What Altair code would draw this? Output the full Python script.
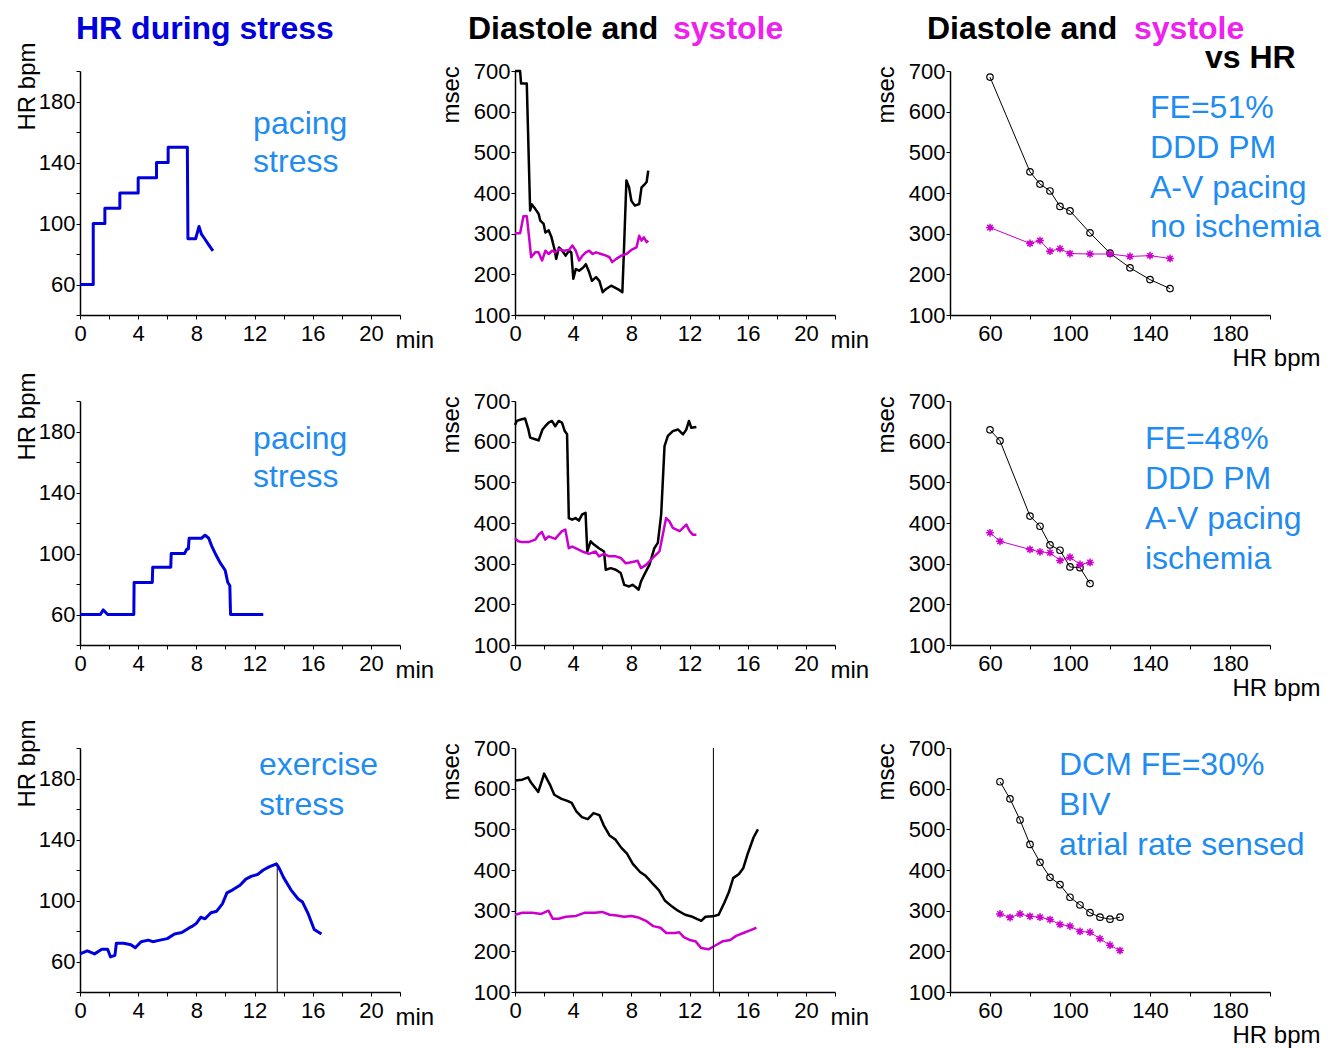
import altair as alt
import pandas as pd

FONT = "Liberation Sans"
BLUE_HR = "#0000dd"
BLUE_TXT = "#1e8cf0"
MAG = "#cc00cc"
MAG_TITLE = "#ee22ee"

# ---------------- data ----------------
# Row 1 (pacing stress, no ischemia)
HR1_T = [0, 0.91, 0.91, 1.71, 1.71, 2.74, 2.74, 4.00, 4.00, 5.26, 5.26, 6.06, 6.06, 7.38, 7.42, 7.95, 8.18, 8.35, 8.57, 8.85, 9.14]
HR1_BPM = [60, 60, 100, 100, 110, 110, 120, 120, 130, 130, 140, 140, 150, 150, 90, 90, 98, 93, 90, 86, 82]

D1_T = [0, 0.35, 0.42, 0.81, 1.04, 1.16, 1.39, 1.62, 1.74, 1.97, 2.09, 2.32, 2.51, 2.74, 2.83, 3.02, 3.25, 3.48, 3.71, 3.87,
        4.01, 4.18, 4.41, 4.69, 4.87, 5.10, 5.29, 5.57, 5.80, 6.03, 6.26, 6.61, 6.84, 7.19, 7.38, 7.49, 7.66, 7.84, 8.00, 8.24,
        8.54, 8.70, 8.93, 9.05, 9.16]
D1_MS = [700, 700, 669, 669, 357, 372, 361, 349, 332, 324, 303, 308, 291, 258, 238, 266, 258, 246, 258, 254,
         189, 213, 209, 217, 225, 205, 184, 193, 184, 156, 164, 172, 168, 161, 156, 258, 431, 414, 381, 369,
         373, 414, 422, 427, 455]
S1_T = [0, 0.35, 0.58, 0.81, 0.97, 1.11, 1.39, 1.62, 1.86, 2.09, 2.32, 2.55, 2.78, 3.02, 3.36, 3.71, 3.94, 4.18, 4.41, 4.64,
        4.87, 5.10, 5.34, 5.57, 5.92, 6.26, 6.50, 6.68, 6.96, 7.31, 7.66, 8.00, 8.35, 8.54, 8.70, 8.86, 9.05, 9.16]
S1_MS = [301, 301, 343, 343, 291, 242, 254, 254, 234, 258, 250, 258, 254, 262, 258, 260, 271, 258, 234, 246,
         254, 258, 250, 254, 250, 246, 242, 230, 238, 246, 250, 260, 266, 295, 283, 291, 279, 283]

VS1_HR = [60, 80, 85, 90, 95, 100, 110, 120, 130, 140, 150]
VS1_D = [685, 452, 422, 405, 367, 356, 302, 252, 216, 187, 165]
VS1_S = [315, 276, 283, 257, 263, 251, 250, 250, 244, 246, 239]

# Row 2 (pacing stress, ischemia)
HR2_T = [0, 1.40, 1.60, 1.90, 3.70, 3.72, 4.97, 5.00, 6.24, 6.27, 7.19, 7.35, 7.45, 7.50, 8.35, 8.60, 8.85, 9.05, 9.35,
         9.63, 9.98, 10.16, 10.30, 10.35, 12.60]
HR2_BPM = [60, 60, 63, 60, 60, 81, 81, 91, 91, 100, 100, 103, 103, 110, 110, 112, 110, 105, 99,
           94, 89, 81, 79, 60, 60]

D2_T = [0, 0.12, 0.46, 0.69, 0.92, 1.04, 1.39, 1.62, 1.73, 1.89, 2.08, 2.31, 2.54, 2.77, 3.00, 3.23, 3.42, 3.58, 3.70, 3.93,
        4.16, 4.39, 4.62, 4.85, 4.97, 5.20, 5.43, 5.77, 6.12, 6.24, 6.58, 6.93, 7.27, 7.51, 7.85, 8.08, 8.31, 8.50, 8.66, 8.89,
        9.24, 9.58, 9.82, 10.05, 10.28, 10.51, 10.85, 11.20, 11.55, 11.78, 11.96, 12.12, 12.47]
D2_MS = [641, 651, 655, 657, 630, 610, 606, 603, 614, 630, 638, 647, 651, 638, 651, 647, 626, 618, 412, 408,
         412, 406, 421, 425, 330, 355, 347, 338, 330, 285, 289, 285, 277, 248, 244, 248, 242, 236, 256, 273,
         297, 338, 351, 421, 589, 614, 626, 630, 618, 630, 651, 634, 636]
S2_T = [0, 0.23, 0.46, 0.92, 1.39, 1.62, 1.85, 2.08, 2.31, 2.77, 3.00, 3.23, 3.46, 3.70, 3.93, 4.16, 4.62, 5.08, 5.54, 5.77,
        6.12, 6.47, 6.93, 7.27, 7.62, 8.08, 8.43, 8.66, 9.01, 9.47, 9.93, 10.16, 10.39, 10.62, 10.85, 11.32, 11.55, 11.78,
        12.01, 12.24, 12.47]
S2_MS = [363, 355, 353, 353, 359, 371, 378, 359, 367, 361, 371, 380, 384, 338, 342, 338, 330, 324, 330, 318,
         324, 318, 318, 314, 301, 304, 307, 289, 297, 314, 330, 371, 412, 404, 388, 380, 388, 396,
         380, 371, 371]

VS2_HR = [60, 65, 80, 85, 90, 95, 100, 105, 110]
VS2_D = [629, 602, 417, 392, 346, 333, 292, 290, 251]
VS2_S = [376, 355, 335, 329, 327, 308, 316, 298, 303]

# Row 3 (exercise stress)
HR3_T = [0, 0.5, 1.0, 1.5, 1.9, 2.1, 2.4, 2.5, 3.0, 3.5, 3.8, 4.2, 4.7, 5.0, 5.5, 6.0, 6.5, 7.0, 7.5, 7.7,
         8.0, 8.3, 8.6, 9.0, 9.4, 9.8, 10.1, 10.5, 11.0, 11.4, 11.8, 12.2, 12.6, 13.0, 13.5, 13.65, 14.0, 14.5,
         15.0, 15.3, 15.7, 16.1, 16.6]
HR3_BPM = [65, 67, 65, 68, 68, 63, 64, 72, 72, 71, 69, 73, 74, 73, 74, 75, 78, 79, 82, 83,
           85, 89, 88, 92, 93, 98, 105, 107, 110, 114, 116, 117, 120, 122, 124, 122, 115, 107,
           101, 99, 91, 81, 78]
HR3_MARK_T = [13.56]
HR3_MARK_BPM = [124]

D3_T = [0, 0.5, 0.9, 1.1, 1.6, 1.9, 2.0, 2.4, 2.7, 3.2, 3.6, 3.9, 4.2, 4.6, 5.0, 5.4, 5.8, 6.1, 6.5, 6.9,
        7.3, 7.7, 8.1, 8.6, 9.0, 9.5, 9.9, 10.3, 10.8, 11.2, 11.7, 12.2, 12.5, 12.8, 13.1, 13.6, 14.0, 14.4, 14.7, 15.0,
        15.4, 15.7, 16.0, 16.4, 16.7]
D3_MS = [620, 622, 628, 615, 592, 625, 637, 610, 585, 575, 570, 565, 545, 530, 525, 540, 535, 510, 485, 475,
         455, 440, 415, 395, 385, 365, 350, 325, 310, 300, 290, 285, 280, 275, 285, 286, 290, 320, 345, 380,
         390, 405, 440, 480, 500]
S3_T = [0, 0.5, 1.2, 1.8, 2.3, 2.6, 3.0, 3.5, 4.2, 4.8, 5.5, 6.0, 6.5, 7.0, 7.5, 8.0, 8.5, 9.0, 9.5, 10.0,
        10.4, 11.0, 11.3, 11.6, 12.0, 12.4, 12.8, 13.3, 13.8, 14.3, 14.8, 15.2, 15.7, 16.2, 16.6]
S3_MS = [290, 295, 295, 292, 300, 280, 280, 285, 287, 295, 295, 297, 290, 288, 285, 287, 283, 275, 262, 258,
         245, 245, 247, 235, 228, 225, 208, 205, 215, 225, 228, 238, 245, 252, 258]
D3_MARK_T = [13.64]

VS3_HR = [65, 70, 75, 80, 85, 90, 95, 100, 105, 110, 115, 120, 125]
VS3_D = [617, 575, 523, 463, 419, 382, 364, 333, 314, 295, 284, 279, 284]
VS3_S = [292, 283, 292, 286, 284, 278, 266, 262, 249, 247, 231, 215, 202]

# annotation texts (placed in data coordinates)
ANN1_TEXT, ANN1_X, ANN1_Y = ["pacing", "stress"], [11.9, 11.9], [158.7, 133.8]
ANN2_TEXT, ANN2_X, ANN2_Y = ["pacing", "stress"], [11.9, 11.9], [168.5, 143.6]
ANN3_TEXT, ANN3_X, ANN3_Y = ["exercise", "stress"], [12.3, 12.3], [182.3, 156.0]
ANNV1_TEXT, ANNV1_X, ANNV1_Y = ["FE=51%", "DDD PM", "A-V pacing", "no ischemia"], [140] * 4, [584, 486, 388, 292]
ANNV2_TEXT, ANNV2_X, ANNV2_Y = ["FE=48%", "DDD PM", "A-V pacing", "ischemia"], [137.5] * 4, [582, 484, 385, 287]
ANNV3_TEXT, ANNV3_X, ANNV3_Y = ["DCM FE=30%", "BIV", "atrial rate sensed"], [94.5] * 3, [634, 535, 437]

TIME_TICKS = list(range(0, 23, 2))
HR_TICKS = list(range(40, 201, 20))
MS_TICKS = list(range(100, 701, 100))

# ---------------- axes ----------------
AX = dict(domainColor="black", domainWidth=1.5, tickColor="black", tickSize=4, tickWidth=1,
          labelFont=FONT, labelFontSize=22, labelColor="black", labelOverlap=False, labelFlush=False,
          grid=False, titleFont=FONT, titleFontSize=24, titleFontWeight="normal", titleColor="black")
HR_LABELS = "(datum.value == 60 || datum.value == 100 || datum.value == 140 || datum.value == 180) ? datum.label : ''"

W, H = 320, 244
TOP3 = 17          # empty band above the plot area of the bottom row
H3 = H + TOP3

X_TIME = alt.X("x:Q", title="min",
               scale=alt.Scale(domain=[0, 22], nice=False, zero=False),
               axis=alt.Axis(values=TIME_TICKS, labelPadding=4,
                             labelExpr="datum.value % 4 == 0 && datum.value <= 20 ? datum.label : ''",
                             titleX=315, titleY=32, titleAlign="left", titleBaseline="alphabetic",
                             titleAngle=0, **AX))
X_HR = alt.X("x:Q", title="HR bpm",
             scale=alt.Scale(domain=[40, 200], nice=False, zero=False),
             axis=alt.Axis(values=HR_TICKS, labelPadding=4, labelExpr=HR_LABELS,
                           titleX=282, titleY=50, titleAlign="left", titleBaseline="alphabetic",
                           titleAngle=0, **AX))


def y_hr(top=0):
    sc = alt.Scale(domain=[40, 200], nice=False, zero=False)
    if top:
        sc = alt.Scale(domain=[40, 200], nice=False, zero=False, range=[H + top, top])
    return alt.Y("y:Q", title="HR bpm", scale=sc,
                 axis=alt.Axis(values=HR_TICKS, labelPadding=1, labelExpr=HR_LABELS,
                               titleX=-46, titleY=59 + top, titleAlign="left", titleBaseline="alphabetic",
                               titleAngle=270, **AX))


def y_ms(top=0):
    sc = alt.Scale(domain=[100, 700], nice=False, zero=False)
    if top:
        sc = alt.Scale(domain=[100, 700], nice=False, zero=False, range=[H + top, top])
    return alt.Y("y:Q", title="msec", scale=sc,
                 axis=alt.Axis(values=MS_TICKS, labelPadding=1,
                               titleX=-57, titleY=52 + top, titleAlign="left", titleBaseline="alphabetic",
                               titleAngle=270, **AX))


Y_HR, Y_MS = y_hr(), y_ms()
Y_HR3, Y_MS3 = y_hr(TOP3), y_ms(TOP3)

STAR = "M-1,0L1,0M0,-1L0,1M-0.7,-0.7L0.7,0.7M-0.7,0.7L0.7,-0.7"
HDR_Y = -32


def frame(xs, ys):
    return pd.DataFrame({"x": xs, "y": ys, "i": list(range(len(xs)))})


def line(xs, ys, X, Y, color, width):
    return alt.Chart(frame(xs, ys)).mark_line(color=color, strokeWidth=width, strokeJoin="round").encode(
        x=X, y=Y, order="i:Q")


def ann(texts, xs, ys, X, Y):
    df = pd.DataFrame({"x": xs, "y": ys, "label": texts})
    return alt.Chart(df).mark_text(align="left", baseline="alphabetic", font=FONT, fontSize=32,
                                   color=BLUE_TXT).encode(x=X, y=Y, text="label:N")


def header(text, dx, dy, color):
    return alt.Chart(pd.DataFrame({"label": [text]})).mark_text(
        align="left", baseline="alphabetic", font=FONT, fontSize=32, fontWeight="bold", color=color
    ).encode(x=alt.value(dx), y=alt.value(dy), text="label:N")


def vs_layers(hr, d, s, X, Y):
    return [
        line(hr, d, X, Y, "black", 1),
        alt.Chart(frame(hr, d)).mark_point(shape="circle", filled=False, size=42, strokeWidth=1.2,
                                           color="black", opacity=1).encode(x=X, y=Y),
        line(hr, s, X, Y, MAG, 1),
        alt.Chart(frame(hr, s)).mark_point(shape=STAR, filled=False, size=60, strokeWidth=1.5,
                                           color=MAG, opacity=1).encode(x=X, y=Y),
    ]


# ---------------- panels ----------------
p1 = alt.layer(
    line(HR1_T, HR1_BPM, X_TIME, Y_HR, BLUE_HR, 3),
    ann(ANN1_TEXT, ANN1_X, ANN1_Y, X_TIME, Y_HR),
    header("HR during stress", -4, HDR_Y, BLUE_HR),
).properties(width=W, height=H)

p2 = alt.layer(
    line(D1_T, D1_MS, X_TIME, Y_MS, "black", 2.5),
    line(S1_T, S1_MS, X_TIME, Y_MS, MAG, 2.5),
    header("Diastole and", -47, HDR_Y, "black"),
    header("systole", 158, HDR_Y, MAG_TITLE),
).properties(width=W, height=H)

p3 = alt.layer(
    *vs_layers(VS1_HR, VS1_D, VS1_S, X_HR, Y_MS),
    ann(ANNV1_TEXT, ANNV1_X, ANNV1_Y, X_HR, Y_MS),
    header("Diastole and", -23, HDR_Y, "black"),
    header("systole", 184, HDR_Y, MAG_TITLE),
    header("vs HR", 255, -3, "black"),
).properties(width=W, height=H)

p4 = alt.layer(
    line(HR2_T, HR2_BPM, X_TIME, Y_HR, BLUE_HR, 3),
    ann(ANN2_TEXT, ANN2_X, ANN2_Y, X_TIME, Y_HR),
).properties(width=W, height=H)

p5 = alt.layer(
    line(D2_T, D2_MS, X_TIME, Y_MS, "black", 2.5),
    line(S2_T, S2_MS, X_TIME, Y_MS, MAG, 2.5),
).properties(width=W, height=H)

p6 = alt.layer(
    *vs_layers(VS2_HR, VS2_D, VS2_S, X_HR, Y_MS),
    ann(ANNV2_TEXT, ANNV2_X, ANNV2_Y, X_HR, Y_MS),
).properties(width=W, height=H)

rule7 = alt.Chart(pd.DataFrame({"x": HR3_MARK_T, "y": [40], "y2": HR3_MARK_BPM})).mark_rule(
    color="black", strokeWidth=1).encode(x=X_TIME, y=Y_HR3, y2="y2:Q")
p7 = alt.layer(
    rule7,
    line(HR3_T, HR3_BPM, X_TIME, Y_HR3, BLUE_HR, 3),
    ann(ANN3_TEXT, ANN3_X, ANN3_Y, X_TIME, Y_HR3),
).properties(width=W, height=H3)

rule8 = alt.Chart(pd.DataFrame({"x": D3_MARK_T, "y": [100], "y2": [700]})).mark_rule(
    color="black", strokeWidth=1).encode(x=X_TIME, y=Y_MS3, y2="y2:Q")
p8 = alt.layer(
    line(D3_T, D3_MS, X_TIME, Y_MS3, "black", 2.5),
    line(S3_T, S3_MS, X_TIME, Y_MS3, MAG, 2.5),
    rule8,
).properties(width=W, height=H3)

p9 = alt.layer(
    *vs_layers(VS3_HR, VS3_D, VS3_S, X_HR, Y_MS3),
    ann(ANNV3_TEXT, ANNV3_X, ANNV3_Y, X_HR, Y_MS3),
).properties(width=W, height=H3)

chart = alt.concat(
    p1, p2, p3, p4, p5, p6, p7, p8, p9,
    columns=3, bounds="flush", spacing={"row": 86, "column": 115},
).properties(
    padding={"left": 7, "top": 5, "right": 5, "bottom": 5}
).configure_view(strokeWidth=0)

chart.save("out.html", embed_options={"renderer": "svg", "actions": False})
